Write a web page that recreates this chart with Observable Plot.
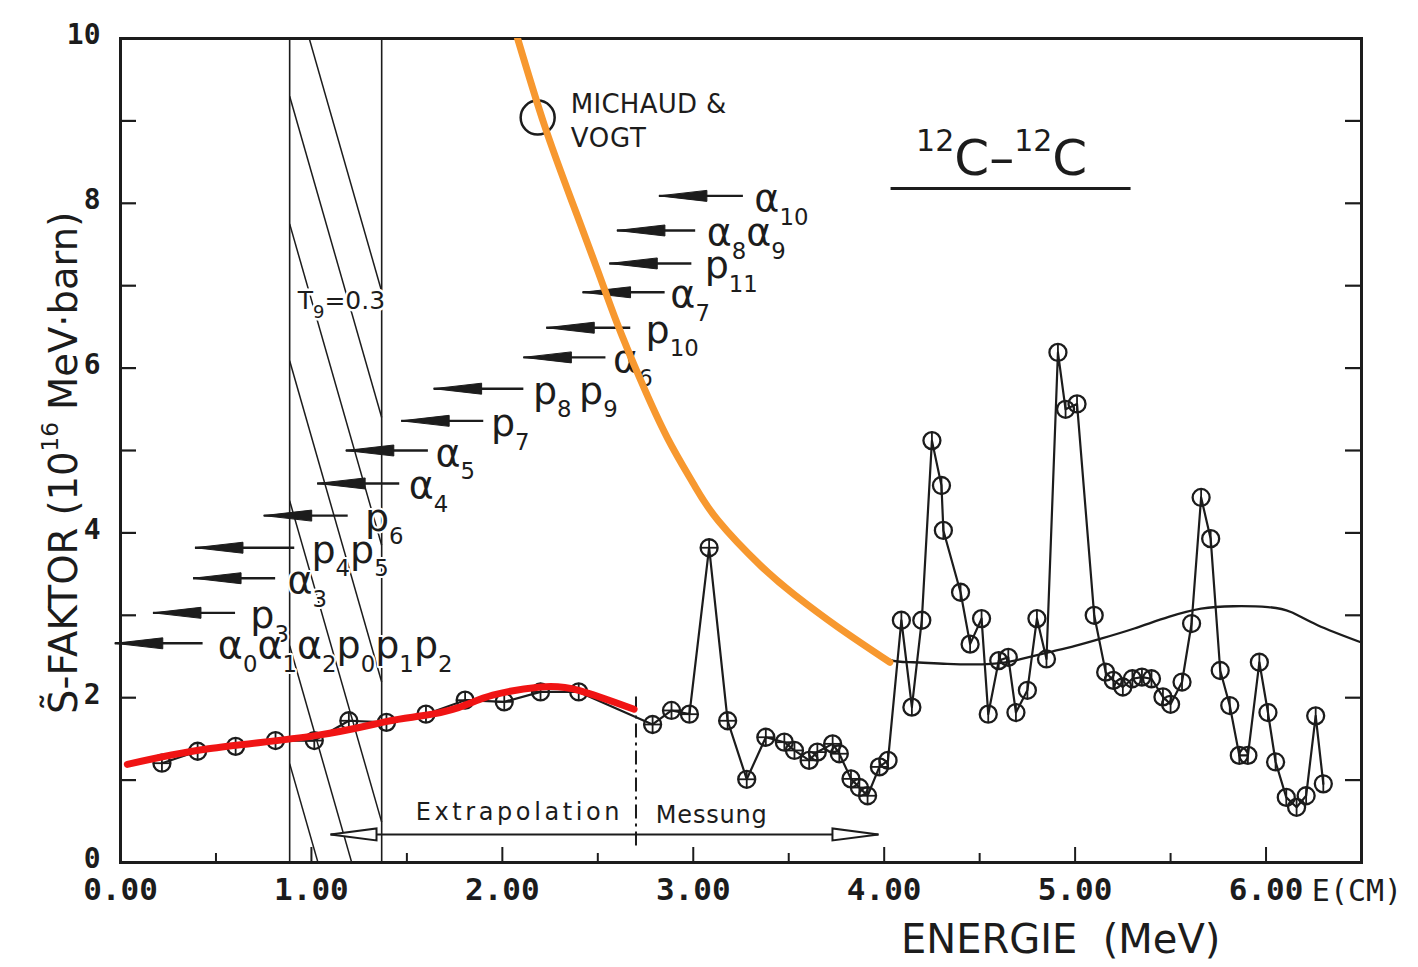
<!DOCTYPE html>
<html><head><meta charset="utf-8">
<script src="https://cdn.jsdelivr.net/npm/d3@7"></script>
<script src="https://cdn.jsdelivr.net/npm/@observablehq/plot@0.6"></script>
<style>
html,body{margin:0;padding:0;background:#fff;}
#chart svg{display:block;}
</style></head><body><div id="chart"></div>
<script>
// ---------- measured S-factor points (E in MeV, S in 1e16 MeV·barn)
const energyMeV = [0.217,0.404,0.603,0.812,1.015,1.196,1.393,1.60,1.805,2.01,2.20,2.40,
  2.787,2.886,2.98,3.083,3.18,3.28,3.38,3.477,3.53,3.607,3.65,3.73,3.765,3.826,3.87,3.913,3.975,4.02,
  4.09,4.145,4.197,4.25,4.30,4.31,4.40,4.45,4.51,4.545,4.60,4.65,4.69,4.75,4.80,4.85,
  4.91,4.95,5.01,5.10,5.16,5.20,5.25,5.30,5.35,5.40,5.46,5.50,5.56,5.61,5.66,5.71,5.76,5.81,5.86,5.905,5.965,6.01,6.05,6.106,6.16,6.21,6.26,6.30];
const sFactor = [1.205,1.35,1.41,1.48,1.48,1.72,1.70,1.80,1.97,1.95,2.07,2.07,
  1.675,1.845,1.80,3.82,1.72,1.01,1.52,1.46,1.36,1.24,1.34,1.44,1.32,1.015,0.91,0.81,1.16,1.24,
  2.94,1.885,2.94,5.12,4.575,4.03,3.28,2.65,2.96,1.80,2.45,2.49,1.82,2.09,2.96,2.47,
  6.19,5.50,5.565,3.0,2.31,2.21,2.13,2.23,2.25,2.23,2.01,1.92,2.19,2.90,4.43,3.93,2.33,1.905,1.30,1.30,2.43,1.82,1.22,0.79,0.67,0.81,1.78,0.955];

// ---------- smooth theory curve (black)
const theoryE = [3.90,4.03,4.15,4.33,4.56,4.72,4.86,5.00,5.14,5.31,5.49,5.66,5.83,6.01,6.13,6.27,6.50];
const theoryS = [2.62,2.46,2.43,2.41,2.41,2.47,2.55,2.63,2.72,2.84,2.98,3.08,3.11,3.10,3.04,2.88,2.67];
// ---------- red extrapolation curve
const redE = [0.036,0.46,1.02,1.39,1.58,1.77,1.95,2.20,2.40,2.69];
const redS = [1.19,1.38,1.54,1.71,1.78,1.88,2.03,2.13,2.09,1.86];
// ---------- orange curve (Michaud & Vogt)
const orangeE = [2.08,2.22,2.36,2.50,2.60,2.725,2.865,3.00,3.13,3.354,3.53,3.756,4.03];
const orangeS = [10.0,8.95,8.05,7.18,6.55,5.85,5.15,4.60,4.15,3.60,3.25,2.86,2.43];

// ---------- threshold arrows
const arrowLabels = ["α_{10}","α_{8}α_{9}","p_{11}","α_{7}","p_{10}","α_{6}","p_{8}\u2009p_{9}","p_{7}","α_{5}","α_{4}","p_{6}","p_{4}p_{5}","α_{3}","p_{3}","α_{0}α_{1}α_{2}p_{0}p_{1}p_{2}"];
const arrowS     = [8.09,7.67,7.27,6.92,6.49,6.13,5.75,5.36,5.00,4.60,4.21,3.82,3.45,3.03,2.66];
const arrowHeadE = [2.82,2.60,2.56,2.42,2.23,2.11,1.64,1.47,1.18,1.03,0.75,0.39,0.38,0.17,-0.03];
const arrowTailE = [3.26,3.01,2.99,2.85,2.67,2.54,2.11,1.90,1.61,1.46,1.19,0.91,0.81,0.60,0.43];
const arrowLabelE= [3.32,3.07,3.06,2.88,2.75,2.58,2.16,1.94,1.65,1.51,1.28,1.00,0.875,0.68,0.51];

// ---------- Gamow window (T9 = 0.3)
const gamowE = [0.886, 1.368];
const hatchStartS = [10.83, 9.30, 7.75, 6.09, 4.39, 2.63, 1.20];
const hatchDrop = 3.9;

// ---------- ticks
const yTickLabels = [0,2,4,6,8,10];
const yTicks = [0,1,2,3,4,5,6,7,8,9,10];
const xTickLabels = [0,1,2,3,4,5,6];
const xMinorTicks = [0.5,1.5,2.5,3.5,4.5,5.5];

// ---------- annotations
const boundaryE = [2.70];
const rangeArrow = [{x1: 1.10, x2: 3.97, y: 0.34}];
const textNotes = [
  {x: 2.358, y: 9.09, t: "MICHAUD &", size: 26},
  {x: 2.358, y: 8.68, t: "VOGT", size: 26},
  {x: 0.928, y: 6.72, t: "T_{9}=0.3", size: 25},
  {x: 1.546, y: 0.51, t: "Extrapolation", size: 24},
  {x: 2.804, y: 0.485, t: "Messung", size: 24},
  {x: 4.167, y: 8.34, t: "^{12}C–^{12}C", size: 50}
];
const legendCircle = [{x: 2.185, y: 9.04}];
const titleRule = [{x1: 4.036, x2: 5.293, y: 8.18}];

// ---------- layout
const W = 1418, H = 967, ML = 120, MR = 57, MT = 38, MB = 105;
const pxX = (W - ML - MR) / 6.5, pxY = (H - MT - MB) / 10;
const ink = "#1c1c1c";

const pts = energyMeV.map((e, i) => ({e, s: sFactor[i]}));
const theory = theoryE.map((e, i) => ({e, s: theoryS[i]}));
const red = redE.map((e, i) => ({e, s: redS[i]}));
const orange = orangeE.map((e, i) => ({e, s: orangeS[i]}));
const arrows = arrowLabels.map((l, i) => ({l, s: arrowS[i], h: arrowHeadE[i], t: arrowTailE[i], lx: arrowLabelE[i]}));

const wedge = {draw(c){ c.moveTo(0,0); c.lineTo(48,-5.5); c.lineTo(48,5.5); c.closePath(); }};
const openLeft = {draw(c){ c.moveTo(0,0); c.lineTo(46,-6); c.lineTo(46,6); c.closePath(); }};
const openRight = {draw(c){ c.moveTo(0,0); c.lineTo(-46,-6); c.lineTo(-46,6); c.closePath(); }};

const monoBold = "DejaVu Sans Mono, Liberation Mono, monospace";
const sans = "DejaVu Sans, Liberation Sans, sans-serif";

const plot = Plot.plot({
  width: W, height: H,
  marginLeft: ML, marginRight: MR, marginTop: MT, marginBottom: MB,
  x: {domain: [0, 6.5], axis: null},
  y: {domain: [0, 10], axis: null},
  style: {background: "#fff", overflow: "visible", color: ink},
  marks: [
    // Gamow window
    Plot.ruleX(gamowE, {x: d => d, y1: 0, y2: 10, stroke: ink, strokeWidth: 1.6}),
    Plot.link(hatchStartS, {x1: gamowE[0], x2: gamowE[1], y1: d => d, y2: d => d - hatchDrop, stroke: ink, strokeWidth: 1.5, clip: true}),
    // frame and ticks
    Plot.frame({stroke: ink, strokeWidth: 3}),
    Plot.ruleY(yTicks, {y: d => d, x1: 0, x2: 16 / pxX, stroke: ink, strokeWidth: 2.2}),
    Plot.ruleY(yTicks.slice(1, -1), {y: d => d, x1: 6.5 - 16 / pxX, x2: 6.5, stroke: ink, strokeWidth: 2.2}),
    Plot.ruleX(xTickLabels, {x: d => d, y1: 0, y2: 15 / pxY, stroke: ink, strokeWidth: 2}),
    Plot.ruleX(xMinorTicks, {x: d => d, y1: 0, y2: 9 / pxY, stroke: ink, strokeWidth: 2}),
    Plot.text(yTickLabels, {x: 0, y: d => d, text: d => String(d), textAnchor: "end", dx: -20, dy: -3, fontSize: 28, fontWeight: "bold", fontFamily: monoBold, fill: ink}),
    Plot.text(xTickLabels, {x: d => d, y: 0, text: d => d.toFixed(2), dy: 28, fontSize: 31, fontWeight: "bold", fontFamily: monoBold, fill: ink}),
    Plot.text(["E(CM)"], {x: 6.24, y: 0, text: d => d, textAnchor: "start", dy: 29, fontSize: 30, fontFamily: monoBold, fill: ink}),
    Plot.text(["ENERGIE\u00a0 (MeV)"], {x: 4.088, y: 0, text: d => d, textAnchor: "start", lineAnchor: "bottom", dy: 90, fontSize: 40, fontFamily: sans, fill: ink}),
    Plot.text(["S\u0303-FAKTOR (10^{16} MeV·barn)"], {frameAnchor: "left", y: 4.85, text: d => d, rotate: -90, textAnchor: "middle", lineAnchor: "bottom", dx: -44, fontSize: 38.5, fontFamily: sans, fill: ink}),
    // annotations
    Plot.ruleX(boundaryE, {x: d => d, y1: 0.2, y2: 2.07, stroke: ink, strokeWidth: 2, strokeDasharray: "14,5,3,5"}),
    Plot.link(rangeArrow, {x1: "x1", x2: "x2", y1: "y", y2: "y", stroke: ink, strokeWidth: 2}),
    Plot.dot(rangeArrow, {x: "x1", y: "y", symbol: openLeft, fill: "#fff", stroke: ink, strokeWidth: 2}),
    Plot.dot(rangeArrow, {x: "x2", y: "y", symbol: openRight, fill: "#fff", stroke: ink, strokeWidth: 2}),
    Plot.dot(legendCircle, {x: "x", y: "y", r: 17, stroke: ink, strokeWidth: 2.5, fill: "none"}),
    Plot.ruleY(titleRule, {y: "y", x1: "x1", x2: "x2", stroke: ink, strokeWidth: 3}),
    Plot.text(textNotes, {x: "x", y: "y", text: "t", fontSize: "size", textAnchor: "start", lineAnchor: "bottom", fontFamily: sans, fill: ink, stroke: "#fff", strokeWidth: 5}),
    // threshold arrows
    Plot.link(arrows, {x1: "h", x2: "t", y1: "s", y2: "s", stroke: ink, strokeWidth: 2.4}),
    Plot.dot(arrows, {x: "h", y: "s", symbol: wedge, fill: ink, stroke: ink, strokeWidth: 1}),
    Plot.text(arrows, {x: "lx", y: "s", text: "l", textAnchor: "start", lineAnchor: "bottom", dy: 15, fontSize: 38, fontFamily: sans, fill: ink, stroke: "#fff", strokeWidth: 4}),
    // data
    Plot.line(theory, {x: "e", y: "s", curve: "natural", stroke: ink, strokeWidth: 2.3}),
    Plot.line(pts, {x: "e", y: "s", stroke: ink, strokeWidth: 2.2}),
    Plot.ruleX(pts, {x: "e", y1: d => d.s - 8.5 / pxY, y2: d => d.s + 8.5 / pxY, stroke: ink, strokeWidth: 1.8}),
    Plot.ruleY(pts.filter(d => d.e < 4), {y: "s", x1: d => d.e - 8.5 / pxX, x2: d => d.e + 8.5 / pxX, stroke: ink, strokeWidth: 1.8}),
    Plot.dot(pts, {x: "e", y: "s", r: 8.5, stroke: ink, strokeWidth: 2.3, fill: "none"}),
    Plot.line(red, {x: "e", y: "s", curve: "natural", stroke: "#f01414", strokeWidth: 7}),
    Plot.line(orange, {x: "e", y: "s", curve: "natural", stroke: "#f7982f", strokeWidth: 7, clip: true})
  ]
});
document.getElementById("chart").appendChild(plot);

// ---------- rich text (sub/superscripts) and letter spacing
const spacing = {"Extrapolation": 3.6, "Messung": 0.8, "MICHAUD &": 0.3, "VOGT": 0.8};
d3.select(plot).selectAll("text").each(function () {
  const s = this.textContent;
  if (spacing[s] != null) this.setAttribute("letter-spacing", spacing[s]);
  if (!/[_^]\{/.test(s)) return;
  const fs = parseFloat(getComputedStyle(this).fontSize) || 36;
  const scale = fs < 30 ? 0.72 : 0.6;
  const re = /([_^])\{([^}]*)\}/g;
  const parts = []; let last = 0, m;
  while ((m = re.exec(s))) {
    if (m.index > last) parts.push({t: s.slice(last, m.index), k: ""});
    parts.push({t: m[2], k: m[1]});
    last = re.lastIndex;
  }
  if (last < s.length) parts.push({t: s.slice(last), k: ""});
  const el = d3.select(this); el.text(null);
  let cur = 0;
  for (const p of parts) {
    const target = p.k === "_" ? fs * 0.36 : p.k === "^" ? -fs * 0.48 : 0;
    const ts = el.append("tspan").attr("dy", target - cur).text(p.t);
    if (p.k) ts.attr("font-size", fs * scale);
    cur = target;
  }
});
</script>
</body></html>
